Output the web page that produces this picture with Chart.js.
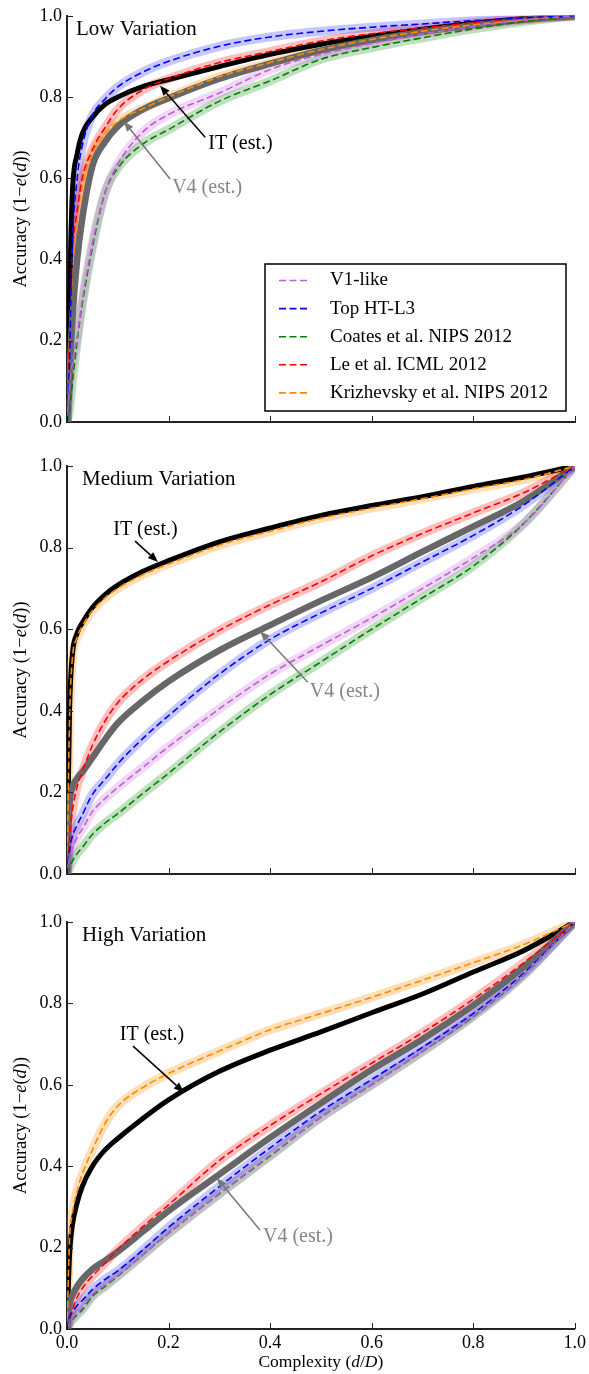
<!DOCTYPE html>
<html>
<head>
<meta charset="utf-8">
<script src="https://cdn.jsdelivr.net/npm/chart.js@4.4.0/dist/chart.umd.min.js"></script>
<style>
  body { margin: 0; background: #fff; }
  #wrap { position: relative; width: 589px; height: 1374px; }
  canvas { position: absolute; left: 0; }
</style>
</head>
<body>
<div id="wrap">
  <canvas id="lowChart" width="589" height="445" style="top:0px"></canvas>
  <canvas id="medChart" width="589" height="445" style="top:445px"></canvas>
  <canvas id="highChart" width="589" height="484" style="top:890px"></canvas>
</div>
<script>
// x positions (d/D) shared by every curve
const complexity = [0, 0.005, 0.01, 0.02, 0.03, 0.05, 0.075, 0.1, 0.15, 0.2, 0.3, 0.4, 0.5, 0.6, 0.7, 0.8, 0.9, 1.0];

const tickValues = [0, 0.2, 0.4, 0.6, 0.8, 1.0];
const tickLabels = ['0.0', '0.2', '0.4', '0.6', '0.8', '1.0'];

const modelNames = ['V1-like', 'Top HT-L3', 'Coates et al. NIPS 2012', 'Le et al. ICML 2012', 'Krizhevsky et al. NIPS 2012'];

// Low variation
const lowV1     = [0, 0.09, 0.14, 0.21, 0.30, 0.44, 0.565, 0.635, 0.715, 0.757, 0.81, 0.868, 0.905, 0.932, 0.955, 0.974, 0.99, 1.0];
const lowHT     = [0, 0.15, 0.42, 0.60, 0.68, 0.755, 0.795, 0.825, 0.862, 0.888, 0.925, 0.948, 0.962, 0.972, 0.98, 0.988, 0.995, 1.0];
const lowCoates = [0, 0.03, 0.09, 0.20, 0.29, 0.43, 0.565, 0.625, 0.685, 0.72, 0.79, 0.84, 0.893, 0.922, 0.946, 0.968, 0.986, 1.0];
const lowLe     = [0, 0.20, 0.40, 0.52, 0.60, 0.67, 0.725, 0.77, 0.818, 0.845, 0.885, 0.912, 0.938, 0.956, 0.97, 0.983, 0.994, 1.0];
const lowKriz   = [0, 0.20, 0.36, 0.50, 0.58, 0.66, 0.71, 0.74, 0.772, 0.80, 0.85, 0.885, 0.917, 0.942, 0.962, 0.978, 0.99, 1.0];
const lowIT     = [0, 0.30, 0.55, 0.66, 0.71, 0.75, 0.782, 0.80, 0.826, 0.843, 0.875, 0.905, 0.93, 0.95, 0.967, 0.982, 0.993, 1.0];
const lowV4     = [0, 0.12, 0.24, 0.40, 0.50, 0.63, 0.69, 0.728, 0.77, 0.797, 0.845, 0.882, 0.915, 0.94, 0.96, 0.977, 0.99, 1.0];

// Medium variation
const medV1     = [0, 0.04, 0.06, 0.09, 0.11, 0.153, 0.185, 0.212, 0.262, 0.312, 0.405, 0.49, 0.56, 0.628, 0.70, 0.775, 0.86, 1.0];
const medHT     = [0, 0.06, 0.09, 0.12, 0.145, 0.195, 0.232, 0.27, 0.333, 0.388, 0.49, 0.575, 0.64, 0.70, 0.765, 0.83, 0.905, 1.0];
const medCoates = [0, 0.015, 0.03, 0.05, 0.065, 0.097, 0.125, 0.148, 0.198, 0.247, 0.348, 0.44, 0.52, 0.60, 0.677, 0.755, 0.86, 1.0];
const medLe     = [0, 0.09, 0.15, 0.215, 0.25, 0.315, 0.375, 0.42, 0.478, 0.522, 0.597, 0.66, 0.716, 0.78, 0.835, 0.885, 0.935, 1.0];
const medKriz   = [0, 0.38, 0.52, 0.58, 0.607, 0.645, 0.677, 0.70, 0.734, 0.76, 0.806, 0.84, 0.872, 0.897, 0.92, 0.944, 0.967, 1.0];
const medIT     = [0, 0.40, 0.53, 0.59, 0.615, 0.653, 0.685, 0.708, 0.742, 0.768, 0.814, 0.848, 0.879, 0.903, 0.925, 0.95, 0.973, 1.0];
const medV4     = [0, 0.17, 0.21, 0.235, 0.25, 0.285, 0.33, 0.37, 0.425, 0.472, 0.548, 0.61, 0.67, 0.727, 0.79, 0.852, 0.915, 1.0];

// High variation
const highV1     = [0, 0.015, 0.025, 0.04, 0.052, 0.085, 0.108, 0.132, 0.183, 0.235, 0.333, 0.427, 0.52, 0.60, 0.683, 0.77, 0.871, 1.0];
const highHT     = [0, 0.03, 0.04, 0.058, 0.07, 0.097, 0.122, 0.143, 0.195, 0.25, 0.35, 0.445, 0.535, 0.613, 0.692, 0.775, 0.875, 1.0];
const highCoates = [0, 0.012, 0.022, 0.035, 0.047, 0.08, 0.105, 0.13, 0.183, 0.235, 0.332, 0.425, 0.52, 0.60, 0.682, 0.768, 0.87, 1.0];
const highLe     = [0, 0.025, 0.045, 0.078, 0.10, 0.13, 0.162, 0.195, 0.252, 0.305, 0.414, 0.50, 0.578, 0.653, 0.728, 0.81, 0.90, 1.0];
const highKriz   = [0, 0.22, 0.28, 0.34, 0.38, 0.44, 0.505, 0.548, 0.594, 0.628, 0.683, 0.735, 0.775, 0.815, 0.857, 0.90, 0.945, 1.0];
const highIT     = [0, 0.18, 0.25, 0.31, 0.35, 0.40, 0.44, 0.468, 0.518, 0.563, 0.633, 0.685, 0.73, 0.777, 0.823, 0.877, 0.93, 1.0];
const highV4     = [0, 0.06, 0.08, 0.105, 0.122, 0.147, 0.168, 0.19, 0.24, 0.29, 0.38, 0.47, 0.555, 0.637, 0.712, 0.795, 0.89, 1.0];

const lineColors = ['#bf5fd6', '#0000ff', '#008000', '#ff0000', '#ff8c00'];
const bandColors = ['rgba(191,95,214,0.25)', 'rgba(0,0,255,0.22)', 'rgba(0,128,0,0.25)', 'rgba(255,0,0,0.25)', 'rgba(255,140,0,0.28)'];
const serif = "'Liberation Serif', 'DejaVu Serif', serif";

Chart.defaults.font.family = serif;
Chart.defaults.color = '#000';

function points(vals) {
  return complexity.map((x, i) => ({ x: x, y: vals[i] }));
}

function buildDatasets(models, it, v4) {
  const sets = [];
  // soft bands behind each model curve
  models.forEach((vals, i) => {
    sets.push({ data: points(vals), borderColor: bandColors[i], borderWidth: 9, order: 3 });
  });
  sets.push({ data: points(v4), borderColor: '#676767', borderWidth: 6.5, order: 2 });
  sets.push({ data: points(it), borderColor: '#000', borderWidth: 5, order: 2 });
  models.forEach((vals, i) => {
    sets.push({ data: points(vals), borderColor: lineColors[i], borderWidth: 1.6, borderDash: [7, 3.5], order: 1 });
  });
  return sets;
}

// draw text with some italic parts
function richText(ctx, parts, x, y, size) {
  let total = 0;
  parts.forEach(p => {
    ctx.font = (p[1] ? 'italic ' : '') + size + 'px ' + serif;
    total += ctx.measureText(p[0]).width;
  });
  let cx = x - total / 2;
  ctx.textAlign = 'left';
  parts.forEach(p => {
    ctx.font = (p[1] ? 'italic ' : '') + size + 'px ' + serif;
    ctx.fillText(p[0], cx, y);
    cx += ctx.measureText(p[0]).width;
  });
}

function arrow(ctx, x1, y1, x2, y2, color) {
  const ang = Math.atan2(y2 - y1, x2 - x1);
  const head = 10, half = 4;
  ctx.strokeStyle = color;
  ctx.fillStyle = color;
  ctx.lineWidth = 1.5;
  ctx.beginPath();
  ctx.moveTo(x1, y1);
  ctx.lineTo(x2 - head * Math.cos(ang), y2 - head * Math.sin(ang));
  ctx.stroke();
  ctx.beginPath();
  ctx.moveTo(x2, y2);
  ctx.lineTo(x2 - head * Math.cos(ang) + half * Math.sin(ang), y2 - head * Math.sin(ang) - half * Math.cos(ang));
  ctx.lineTo(x2 - head * Math.cos(ang) - half * Math.sin(ang), y2 - head * Math.sin(ang) + half * Math.cos(ang));
  ctx.closePath();
  ctx.fill();
}

const panelDecor = {
  id: 'panelDecor',
  afterDatasetsDraw(chart, args, opts) {
    const { ctx, chartArea: a, scales: { x, y } } = chart;
    ctx.save();
    // inward tick marks
    ctx.strokeStyle = '#222';
    ctx.lineWidth = 1;
    tickValues.forEach(v => {
      const px = Math.round(x.getPixelForValue(v)) + 0.5;
      ctx.beginPath(); ctx.moveTo(px, a.bottom); ctx.lineTo(px, a.bottom - 6); ctx.stroke();
      const py = Math.round(y.getPixelForValue(v)) + 0.5;
      ctx.beginPath(); ctx.moveTo(a.left, py); ctx.lineTo(a.left + 6, py); ctx.stroke();
    });

    // panel title
    ctx.fillStyle = '#000';
    ctx.font = '21px ' + serif;
    ctx.textAlign = 'left';
    ctx.textBaseline = 'alphabetic';
    ctx.fillText(opts.title, a.left + opts.titleDx, a.top + 19);

    // annotations
    opts.notes.forEach(n => {
      arrow(ctx, x.getPixelForValue(n.ax1), y.getPixelForValue(n.ay1),
        x.getPixelForValue(n.ax2), y.getPixelForValue(n.ay2), n.arrowColor);
      ctx.fillStyle = n.color;
      ctx.font = '20px ' + serif;
      ctx.textAlign = 'left';
      ctx.fillText(n.text, x.getPixelForValue(n.tx), y.getPixelForValue(n.ty));
    });

    // y axis title
    ctx.save();
    ctx.translate(21, (a.top + a.bottom) / 2);
    ctx.rotate(-Math.PI / 2);
    ctx.fillStyle = '#000';
    ctx.textBaseline = 'middle';
    richText(ctx, [['Accuracy (1\u2212', false], ['e', true], ['(', false], ['d', true], ['))', false]], 0, 0, 18.5);
    ctx.restore();

    if (opts.xTitle) {
      ctx.fillStyle = '#000';
      ctx.textBaseline = 'alphabetic';
      richText(ctx, [['Complexity (', false], ['d', true], ['/', false], ['D', true], [')', false]],
        (a.left + a.right) / 2, a.bottom + 38, 17.5);
    }

    if (opts.legend) {
      const bx = a.right - 310, by = a.bottom - 158, bw = 301, bh = 147;
      ctx.fillStyle = '#fff';
      ctx.fillRect(bx, by, bw, bh);
      ctx.strokeStyle = '#000';
      ctx.lineWidth = 1.5;
      ctx.strokeRect(bx, by, bw, bh);
      modelNames.forEach((name, i) => {
        const ry = by + 16.5 + i * 28.1;
        ctx.strokeStyle = lineColors[i];
        ctx.lineWidth = 1.6;
        ctx.setLineDash([7, 3.5]);
        ctx.beginPath(); ctx.moveTo(bx + 14, ry); ctx.lineTo(bx + 42, ry); ctx.stroke();
        ctx.setLineDash([]);
        ctx.fillStyle = '#000';
        ctx.font = '19px ' + serif;
        ctx.textBaseline = 'middle';
        ctx.textAlign = 'left';
        ctx.fillText(name, bx + 65, ry);
      });
    }
    ctx.restore();
  }
};

function makePanel(id, datasets, cfg) {
  return new Chart(document.getElementById(id), {
    type: 'line',
    data: { datasets: datasets },
    plugins: [panelDecor],
    options: {
      responsive: false,
      animation: false,
      devicePixelRatio: 1,
      layout: { padding: { top: cfg.padTop, right: 14, left: 0, bottom: 0 } },
      elements: {
        point: { radius: 0 },
        line: { fill: false, cubicInterpolationMode: 'monotone', borderCapStyle: 'butt', borderJoinStyle: 'round' }
      },
      scales: {
        x: {
          type: 'linear', min: 0, max: 1,
          grid: { display: false, drawTicks: false },
          border: { display: true, color: '#222', width: 2 },
          afterBuildTicks: s => { s.ticks = tickValues.map(v => ({ value: v })); },
          afterFit: s => { s.height = cfg.xHeight; },
          ticks: { display: cfg.xLabels, padding: 3, font: { size: 18 }, maxRotation: 0, autoSkip: false,
            callback: (v, i) => tickLabels[i] }
        },
        y: {
          type: 'linear', min: 0, max: 1,
          grid: { display: false, drawTicks: false },
          border: { display: true, color: '#222', width: 2 },
          afterBuildTicks: s => { s.ticks = tickValues.map(v => ({ value: v })); },
          afterFit: s => { s.width = 67; },
          ticks: { padding: 5, font: { size: 18 }, autoSkip: false, callback: (v, i) => tickLabels[i] }
        }
      },
      plugins: {
        legend: { display: false },
        tooltip: { enabled: false },
        panelDecor: cfg.decor
      }
    }
  });
}

makePanel('lowChart', buildDatasets([lowV1, lowHT, lowCoates, lowLe, lowKriz], lowIT, lowV4), {
  padTop: 14, xHeight: 23, xLabels: false,
  decor: {
    title: 'Low Variation', titleDx: 9, legend: true, xTitle: false,
    notes: [
      { text: 'IT (est.)', color: '#000', arrowColor: '#000', tx: 0.278, ty: 0.672, ax1: 0.272, ay1: 0.701, ax2: 0.183, ay2: 0.828 },
      { text: 'V4 (est.)', color: '#858585', arrowColor: '#777', tx: 0.207, ty: 0.564, ax1: 0.203, ay1: 0.598, ax2: 0.112, ay2: 0.74 }
    ]
  }
});

makePanel('medChart', buildDatasets([medV1, medHT, medCoates, medLe, medKriz], medIT, medV4), {
  padTop: 21, xHeight: 16, xLabels: false,
  decor: {
    title: 'Medium Variation', titleDx: 15, legend: false, xTitle: false,
    notes: [
      { text: 'IT (est.)', color: '#000', arrowColor: '#000', tx: 0.091, ty: 0.831, ax1: 0.134, ay1: 0.816, ax2: 0.179, ay2: 0.765 },
      { text: 'V4 (est.)', color: '#858585', arrowColor: '#777', tx: 0.478, ty: 0.434, ax1: 0.474, ay1: 0.47, ax2: 0.38, ay2: 0.595 }
    ]
  }
});

makePanel('highChart', buildDatasets([highV1, highHT, highCoates, highLe, highKriz], highIT, highV4), {
  padTop: 32, xHeight: 45, xLabels: true,
  decor: {
    title: 'High Variation', titleDx: 15, legend: false, xTitle: true,
    notes: [
      { text: 'IT (est.)', color: '#000', arrowColor: '#000', tx: 0.104, ty: 0.71, ax1: 0.13, ay1: 0.695, ax2: 0.23, ay2: 0.582 },
      { text: 'V4 (est.)', color: '#858585', arrowColor: '#777', tx: 0.386, ty: 0.214, ax1: 0.38, ay1: 0.243, ax2: 0.295, ay2: 0.371 }
    ]
  }
});
</script>
</body>
</html>
